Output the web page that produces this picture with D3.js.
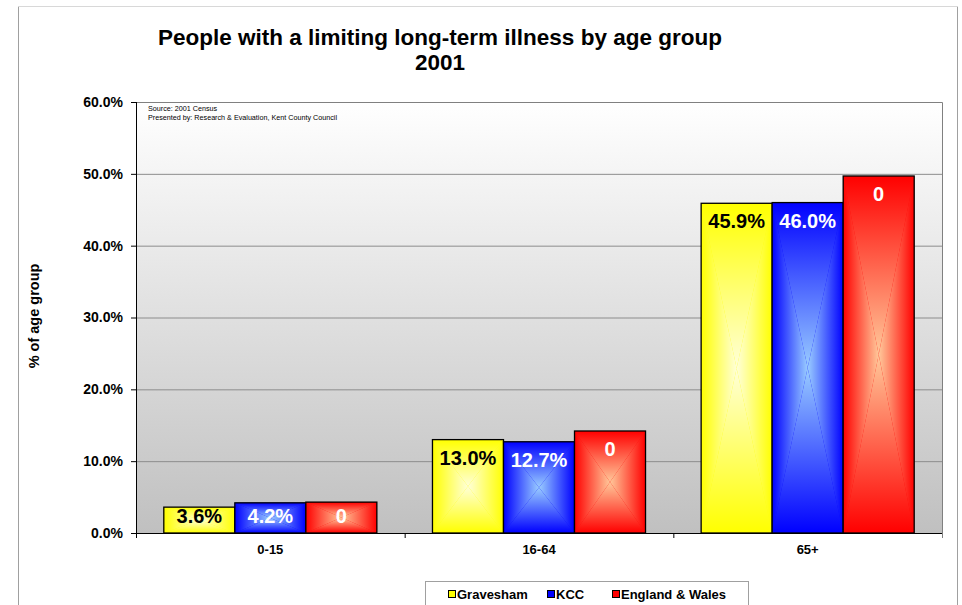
<!DOCTYPE html>
<html>
<head>
<meta charset="utf-8">
<script src="https://cdn.jsdelivr.net/npm/d3@7"></script>
<style>
  body { margin: 0; background: #fff; }
  svg { display: block; font-family: "Liberation Sans", Arial, sans-serif; }
</style>
</head>
<body>
<div id="chart"></div>
<script>
// data
var categories = ["0-15", "16-64", "65+"];
var seriesNames = ["Gravesham", "KCC", "England & Wales"];
var gravesham = [3.6, 13.0, 45.9];
var kcc = [4.2, 12.7, 46.0];
var englandWales = [4.3, 14.2, 49.7];
// the original chart prints "0" on every England & Wales bar
var englandWalesLabels = ["0", "0", "0"];
var yTicks = [0, 10, 20, 30, 40, 50, 60];

var colors = {
  "Gravesham": { edge: "#ffff00", center: "#ffffd8", text: "#000" },
  "KCC": { edge: "#0000ff", center: "#99ccff", text: "#fff" },
  "England & Wales": { edge: "#ff0000", center: "#ffc89a", text: "#fff" }
};

var W = 962, H = 605;
var plot = { left: 136, top: 102, right: 942, bottom: 533 };

var svg = d3.select("#chart").append("svg")
  .attr("width", W)
  .attr("height", H);

var defs = svg.append("defs");

// outer chart frame
svg.append("rect")
  .attr("x", 18.5).attr("y", 6.5)
  .attr("width", 939).attr("height", 640)
  .attr("fill", "#fff")
  .attr("stroke", "#a0a0a0");
svg.append("line")
  .attr("x1", 18).attr("x2", 958).attr("y1", 6.5).attr("y2", 6.5)
  .attr("stroke", "#d8d8d8");

// title
svg.append("text")
  .attr("x", 440).attr("y", 45)
  .attr("text-anchor", "middle")
  .style("font-size", "22.5px").style("font-weight", "bold")
  .text("People with a limiting long-term illness by age group");
svg.append("text")
  .attr("x", 440).attr("y", 70)
  .attr("text-anchor", "middle")
  .style("font-size", "22.5px").style("font-weight", "bold")
  .text("2001");

// scales
var y = d3.scaleLinear().domain([0, 60]).range([plot.bottom, plot.top]);
var x0 = d3.scaleBand().domain(categories).range([plot.left, plot.right])
  .paddingInner(0.207).paddingOuter(0.1035);
var x1 = d3.scaleBand().domain(seriesNames).range([0, x0.bandwidth()]);

// plot background gradient
var bg = defs.append("linearGradient").attr("id", "bg")
  .attr("x1", 0).attr("y1", 0).attr("x2", 0).attr("y2", 1);
bg.append("stop").attr("offset", "0%").attr("stop-color", "#ffffff");
bg.append("stop").attr("offset", "100%").attr("stop-color", "#c0c0c0");

svg.append("rect")
  .attr("x", plot.left).attr("y", plot.top)
  .attr("width", plot.right - plot.left)
  .attr("height", plot.bottom - plot.top)
  .attr("fill", "url(#bg)");

// gridlines
svg.append("g").selectAll("line")
  .data(yTicks.filter(function (d) { return d > 0 && d < 60; }))
  .enter().append("line")
  .attr("x1", plot.left).attr("x2", plot.right)
  .attr("y1", function (d) { return y(d) + 0.5; })
  .attr("y2", function (d) { return y(d) + 0.5; })
  .attr("stroke", "#8c8c8c");

// plot border top/right
svg.append("path")
  .attr("d", "M" + plot.left + "," + (plot.top + 0.5) + "H" + (plot.right + 0.5) + "V" + plot.bottom)
  .attr("fill", "none").attr("stroke", "#808080");

// source note
var note = svg.append("text")
  .attr("x", 148).attr("y", 111)
  .style("font-size", "7.2px").attr("fill", "#000");
note.append("tspan").attr("x", 148).text("Source: 2001 Census");
note.append("tspan").attr("x", 148).attr("dy", 8.5).text("Presented by: Research & Evaluation, Kent County Council");

// rectangular "from centre" gradients, one set of 4 per series
seriesNames.forEach(function (name, i) {
  var c = colors[name];
  var dirs = [
    { id: "t", x1: 0, y1: 0, x2: 0, y2: 1 },
    { id: "b", x1: 0, y1: 1, x2: 0, y2: 0 },
    { id: "l", x1: 0, y1: 0, x2: 1, y2: 0 },
    { id: "r", x1: 1, y1: 0, x2: 0, y2: 0 }
  ];
  dirs.forEach(function (d) {
    var g = defs.append("linearGradient")
      .attr("id", "g" + i + d.id)
      .attr("x1", d.x1).attr("y1", d.y1).attr("x2", d.x2).attr("y2", d.y2);
    g.append("stop").attr("offset", "0%").attr("stop-color", c.edge);
    g.append("stop").attr("offset", "100%").attr("stop-color", c.center);
  });
});

var seriesValues = [gravesham, kcc, englandWales];
var bars = [];
categories.forEach(function (cat, ci) {
  seriesNames.forEach(function (name, si) {
    var v = seriesValues[si][ci];
    bars.push({
      cat: cat, name: name, si: si, value: v,
      label: si === 2 ? englandWalesLabels[ci] : v.toFixed(1) + "%"
    });
  });
});

var barG = svg.append("g").selectAll("g")
  .data(bars).enter().append("g");

barG.each(function (d) {
  var g = d3.select(this);
  var bx0 = x0(d.cat) + x1(d.name), bx1 = bx0 + x1.bandwidth();
  var by0 = y(d.value), by1 = y(0);
  var cx = (bx0 + bx1) / 2, cy = (by0 + by1) / 2;
  g.append("rect")
    .attr("x", bx0).attr("y", by0)
    .attr("width", bx1 - bx0).attr("height", by1 - by0)
    .attr("fill", colors[d.name].edge);
  var tris = [
    { id: "t", pts: [[bx0, by0], [bx1, by0], [cx, cy]] },
    { id: "b", pts: [[bx0, by1], [bx1, by1], [cx, cy]] },
    { id: "l", pts: [[bx0, by0], [bx0, by1], [cx, cy]] },
    { id: "r", pts: [[bx1, by0], [bx1, by1], [cx, cy]] }
  ];
  tris.forEach(function (t) {
    g.append("polygon")
      .attr("points", t.pts.map(function (p) { return p.join(","); }).join(" "))
      .attr("fill", "url(#g" + d.si + t.id + ")");
  });
  g.append("rect")
    .attr("x", bx0).attr("y", by0)
    .attr("width", bx1 - bx0).attr("height", by1 - by0)
    .attr("fill", "none").attr("stroke", "#000").attr("stroke-width", 1.3);
  g.append("text")
    .attr("x", cx)
    .attr("y", Math.min(by0 + 25, by1 - 10))
    .attr("text-anchor", "middle")
    .style("font-size", "20px").style("font-weight", "bold")
    .attr("fill", colors[d.name].text)
    .text(d.label);
});

// y axis
var yAxis = svg.append("g")
  .attr("transform", "translate(" + plot.left + ",0)")
  .call(d3.axisLeft(y).tickValues(yTicks).tickSize(5).tickPadding(8)
    .tickFormat(function (d) { return d.toFixed(1) + "%"; }));
yAxis.select(".domain").attr("stroke", "#000").attr("d", "M0.5," + plot.top + "V" + plot.bottom);
yAxis.selectAll("text").style("font-size", "14px").style("font-weight", "bold")
  .style("font-family", "'Liberation Sans', Arial, sans-serif");

// x axis
var xAxis = svg.append("g")
  .attr("transform", "translate(0," + plot.bottom + ")")
  .call(d3.axisBottom(x0).tickSize(0).tickPadding(12));
xAxis.select(".domain").attr("stroke", "#000").attr("d", "M" + plot.left + ",0.5H" + plot.right);
xAxis.selectAll("text").style("font-size", "13px").style("font-weight", "bold")
  .style("font-family", "'Liberation Sans', Arial, sans-serif");
xAxis.selectAll(".boundary")
  .data(d3.range(categories.length + 1)).enter().append("line")
  .attr("x1", function (i) { return plot.left + i * x0.step() + 0.5; })
  .attr("x2", function (i) { return plot.left + i * x0.step() + 0.5; })
  .attr("y1", 0).attr("y2", 5)
  .attr("stroke", function (i) { return i === categories.length ? "#808080" : "#000"; });

// y axis title
svg.append("text")
  .attr("transform", "translate(39,316) rotate(-90)")
  .attr("text-anchor", "middle")
  .style("font-size", "14.5px").style("font-weight", "bold")
  .text("% of age group");

// legend
var legend = svg.append("g");
legend.append("rect")
  .attr("x", 425.5).attr("y", 581.5).attr("width", 323).attr("height", 40)
  .attr("fill", "#fff").attr("stroke", "#a0a0a0");
var legendX = [448, 547, 612];
seriesNames.forEach(function (name, i) {
  legend.append("rect")
    .attr("x", legendX[i] + 0.5).attr("y", 590.5)
    .attr("width", 7).attr("height", 7)
    .attr("fill", colors[name].edge)
    .attr("stroke", "#000").attr("stroke-width", 1);
  legend.append("text")
    .attr("x", legendX[i] + 9).attr("y", 599)
    .style("font-size", "13px").style("font-weight", "bold")
    .text(name);
});
</script>
</body>
</html>
